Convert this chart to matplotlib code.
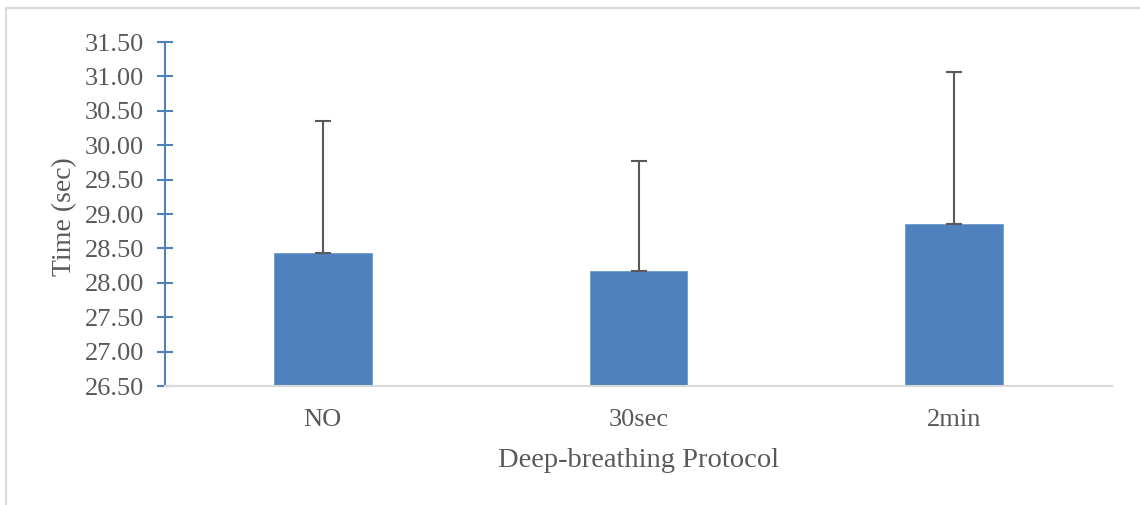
import matplotlib.pyplot as plt
from matplotlib.lines import Line2D
import numpy as np

categories = ["NO", "30sec", "2min"]
means = [28.44, 28.17, 28.85]
err_upper = [1.91, 1.60, 2.21]
y_ticks = [26.5, 27.0, 27.5, 28.0, 28.5, 29.0, 29.5, 30.0, 30.5, 31.0, 31.5]

BAR_COLOR = "#4F81BD"
TEXT_COLOR = "#595959"

plt.rcParams["font.family"] = ["Liberation Serif", "DejaVu Serif"]

fig = plt.figure(figsize=(11.4, 5.05), dpi=100)
ax = fig.add_axes([165 / 1140, 1 - 386 / 505, (1112 - 165) / 1140, (386 - 42) / 505])

x = np.arange(len(categories))
base = y_ticks[0]
heights = [m - base for m in means]
ax.bar(x, heights, bottom=base, width=0.31, color=BAR_COLOR,
       edgecolor="#6F9BD0", linewidth=0.6, zorder=2)
ax.errorbar(x, means, yerr=[np.zeros(len(means)), err_upper], fmt="none",
            ecolor="#595959", elinewidth=1.5, capsize=5.8, capthick=1.5, zorder=3)

ax.set_xlim(-0.5, 2.5)
ax.set_ylim(y_ticks[0], y_ticks[-1])
ax.set_yticks(y_ticks)
ax.set_yticklabels([f"{t:.2f}" for t in y_ticks])
ax.set_xticks(x)
ax.set_xticklabels(categories)

for side in ["top", "right"]:
    ax.spines[side].set_visible(False)
ax.spines["left"].set_color(BAR_COLOR)
ax.spines["left"].set_linewidth(1.5)
ax.spines["bottom"].set_color("#D9D9D9")
ax.spines["bottom"].set_linewidth(1.5)

ax.tick_params(axis="y", colors=BAR_COLOR, direction="inout", length=11, width=1.5,
               labelcolor=TEXT_COLOR, labelsize=19, pad=9.5)
ax.tick_params(axis="x", length=0, labelcolor=TEXT_COLOR, labelsize=19, pad=16.5)

ax.set_ylabel("Time (sec)", color=TEXT_COLOR, fontsize=20, labelpad=5.5)
ax.yaxis.label.set_y(0.493)
ax.set_xlabel("Deep-breathing Protocol", color=TEXT_COLOR, fontsize=20.5, labelpad=12)

# chart-area border (only top and left visible in reference)
fig.add_artist(Line2D([6 / 1140, 1], [1 - 8 / 505, 1 - 8 / 505], color="#D9D9D9", lw=1.5,
                      transform=fig.transFigure))
fig.add_artist(Line2D([6 / 1140, 6 / 1140], [0, 1 - 8 / 505], color="#D9D9D9", lw=1.5,
                      transform=fig.transFigure))

fig.savefig("out.png", dpi=100, facecolor="white")
